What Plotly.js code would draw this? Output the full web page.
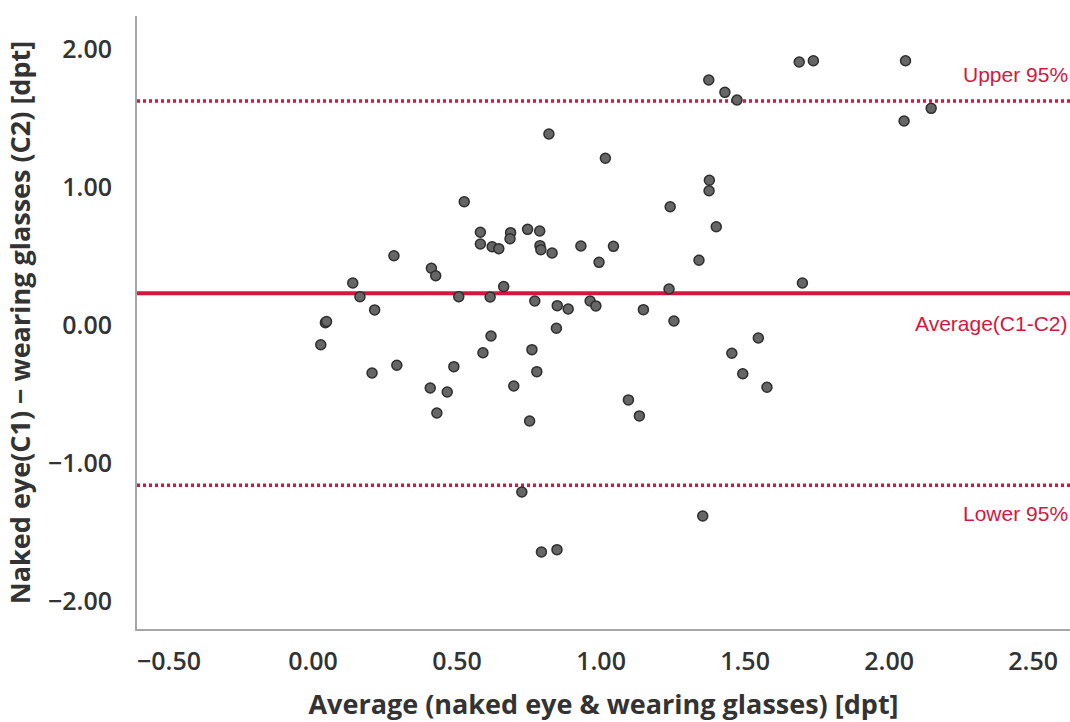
<!DOCTYPE html>
<html>
<head>
<meta charset="utf-8">
<script src="https://cdn.plot.ly/plotly-3.0.1.min.js"></script>
<style>html,body{margin:0;padding:0;background:#fff;}#chart{width:1070px;height:722px;}</style>
</head>
<body>
<div id="chart"></div>
<script>
// Average of naked eye & wearing glasses [dpt]
const avgValues = [0.027,0.043,0.047,0.138,0.163,0.214,0.205,0.281,0.291,0.411,0.426,0.407,0.430,0.466,0.489,0.506,0.525,0.581,0.581,0.590,0.615,0.618,0.622,0.645,0.662,0.686,0.684,0.697,0.725,0.745,0.752,0.760,0.770,0.777,0.787,0.788,0.791,0.793,0.819,0.830,0.845,0.848,0.847,0.886,0.930,0.962,0.982,0.993,1.015,1.043,1.095,1.133,1.147,1.236,1.240,1.253,1.340,1.353,1.374,1.376,1.375,1.400,1.430,1.454,1.472,1.492,1.546,1.576,1.688,1.699,1.737,2.052,2.057,2.146];
// Difference naked eye (C1) - wearing glasses (C2) [dpt]
const diffValues = [-0.143,0.017,0.025,0.304,0.205,0.109,-0.348,0.502,-0.292,0.411,0.357,-0.457,-0.638,-0.486,-0.302,0.205,0.893,0.672,0.587,-0.201,0.203,-0.080,0.567,0.553,0.278,0.669,0.625,-0.442,-1.210,0.693,-0.696,-0.179,0.174,-0.338,0.681,0.575,0.546,-1.645,1.384,0.522,-0.024,0.140,-1.628,0.116,0.572,0.174,0.138,0.454,1.208,0.570,-0.543,-0.659,0.111,0.261,0.857,0.029,0.469,-1.384,1.775,1.049,0.973,0.712,1.686,-0.205,1.630,-0.353,-0.094,-0.451,1.906,0.304,1.915,1.478,1.915,1.570];
// Reference lines
const lineNames = ["Upper 95%", "Average(C1-C2)", "Lower 95%"];
const lineValues = [1.623, 0.230, -1.162];
const lineDash = ["3px,3px", "solid", "3px,3px"];
const labelShift = [27, -30, -28];
const xTicks = [-0.5, 0, 0.5, 1, 1.5, 2, 2.5];
const yTicks = [-2, -1, 0, 1, 2];

const red = "#d6163f";
const shapes = lineValues.map((v, i) => ({
  type: "line", xref: "paper", x0: 0, x1: 1, yref: "y", y0: v, y1: v,
  line: {color: red, width: i === 1 ? 4 : 3.5, dash: lineDash[i]}, layer: "below"
}));
const annotations = lineValues.map((v, i) => ({
  xref: "paper", x: 1, xanchor: "right", yref: "y", y: v, yshift: labelShift[i],
  text: lineNames[i], showarrow: false,
  font: {family: "Liberation Sans, Arial, sans-serif", size: 21, color: red}
}));

const trace = {
  type: "scatter", mode: "markers", x: avgValues, y: diffValues,
  marker: {size: 10, color: "#666666", line: {color: "#2e2e2e", width: 1.5}},
  hoverinfo: "x+y", showlegend: false
};

const tickFont = {family: "Open Sans, sans-serif", size: 25, color: "#333333", weight: 600};
const layout = {
  width: 1070, height: 722,
  margin: {l: 137, r: 0, t: 16, b: 93},
  paper_bgcolor: "#ffffff", plot_bgcolor: "#ffffff",
  showlegend: false,
  xaxis: {
    range: [-0.611, 2.628], tickvals: xTicks, tickformat: ".2f",
    showgrid: false, zeroline: false, showline: true, linecolor: "#a6a6a6", linewidth: 2,
    ticks: "", ticklabelstandoff: 9, tickfont: tickFont,
    title: {text: "Average (naked eye & wearing glasses) [dpt]", standoff: 20,
            font: {family: "Open Sans, sans-serif", size: 27, color: "#333333", weight: 700}}
  },
  yaxis: {
    range: [-2.203, 2.239], tickvals: yTicks, tickformat: ".2f",
    showgrid: false, zeroline: false, showline: true, linecolor: "#a6a6a6", linewidth: 2,
    ticks: "", ticklabelstandoff: 18, tickfont: tickFont,
    title: {text: "Naked eye(C1) \u2212 wearing glasses (C2) [dpt]", standoff: 10,
            font: {family: "Open Sans, sans-serif", size: 27, color: "#333333", weight: 700}}
  },
  shapes: shapes,
  annotations: annotations
};

Plotly.newPlot("chart", [trace], layout, {displayModeBar: false, staticPlot: true});
</script>
</body>
</html>
